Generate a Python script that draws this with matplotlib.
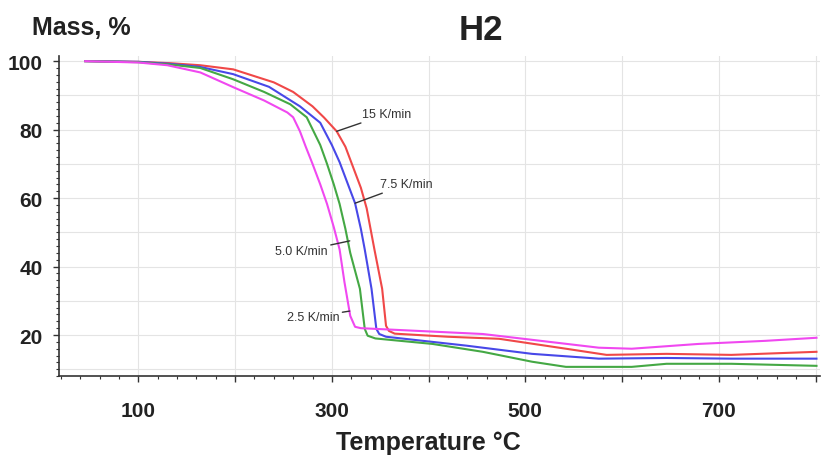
import matplotlib.pyplot as plt
from matplotlib.ticker import MultipleLocator

plt.rcParams['font.family'] = ['Liberation Sans', 'DejaVu Sans']

# TGA curves: temperature (°C) and mass (%)
t_15 = [45, 100, 133, 164, 198, 240, 260, 280, 292, 305, 314, 322, 330, 336, 344, 352, 356, 359, 365, 420, 473, 542, 584, 646, 713, 801]
m_15 = [100, 99.8, 99.4, 98.8, 97.6, 93.8, 91.0, 86.8, 83.5, 79.5, 75.0, 69.0, 63.0, 57.0, 45.0, 33.5, 22.7, 21.2, 20.4, 19.5, 18.9, 16.0, 14.2, 14.5, 14.2, 15.1]

t_75 = [45, 100, 133, 164, 198, 235, 267, 288, 300, 308, 316, 324, 330, 334, 341, 346, 349, 356, 439, 507, 576, 646, 713, 801]
m_75 = [100, 99.8, 99.2, 98.3, 96.2, 92.5, 86.8, 82.0, 75.5, 70.5, 64.5, 58.5, 51.0, 45.0, 33.5, 21.8, 20.3, 19.5, 16.9, 14.5, 13.1, 13.3, 13.1, 13.1]

t_50 = [45, 100, 133, 164, 198, 230, 257, 274, 288, 295, 302, 308, 314, 319, 329, 334, 337, 345, 404, 456, 507, 542, 610, 646, 713, 801]
m_50 = [100, 99.7, 99.0, 98.0, 94.7, 91.0, 87.4, 83.6, 75.5, 70.0, 64.0, 58.3, 51.0, 44.0, 33.5, 21.8, 19.8, 19.0, 17.4, 15.1, 12.2, 10.7, 10.7, 11.6, 11.6, 11.0]

t_25 = [45, 100, 130, 164, 198, 230, 254, 260, 267, 273, 280, 288, 295, 302, 308, 313, 319, 324, 330, 456, 525, 576, 610, 679, 748, 801]
m_25 = [100, 99.6, 98.8, 96.7, 92.4, 88.5, 85.0, 83.6, 79.5, 75.0, 70.0, 64.0, 58.3, 51.5, 45.0, 35.5, 25.6, 22.4, 22.0, 20.3, 18.0, 16.3, 16.0, 17.4, 18.3, 19.2]

rates = ["15 K/min", "7.5 K/min", "5.0 K/min", "2.5 K/min"]
colors = ["#f04848", "#4848e8", "#44a844", "#f048f0"]

fig = plt.figure(figsize=(8.32, 4.56), dpi=100)
ax = fig.add_axes([0.071, 0.173, 0.915, 0.702])

for t, m, c in zip([t_15, t_75, t_50, t_25], [m_15, m_75, m_50, m_25], colors):
    ax.plot(t, m, color=c, lw=1.5, zorder=3)

ax.set_xlim(18, 805)
ax.set_ylim(8, 101.5)

ax.set_xticks([100, 200, 300, 400, 500, 600, 700, 800])
ax.set_xticklabels(["100", "", "300", "", "500", "", "700", ""])
ax.xaxis.set_minor_locator(MultipleLocator(20))
ax.yaxis.set_major_locator(MultipleLocator(20))
ax.yaxis.set_minor_locator(MultipleLocator(2))

for x in range(100, 801, 100):
    ax.axvline(x, color="#e4e4e4", lw=0.8, zorder=0)
for y in range(10, 101, 10):
    ax.axhline(y, color="#e4e4e4", lw=0.8, zorder=0)

for s in ["top", "right"]:
    ax.spines[s].set_visible(False)
for s in ["left", "bottom"]:
    ax.spines[s].set_linewidth(1.2)
    ax.spines[s].set_color("#333333")

ax.tick_params(axis="both", which="major", length=4, width=1.0, color="#333333",
               labelsize=15, pad=14)
ax.tick_params(axis="both", which="minor", length=2.5, width=0.8, color="#333333")
ax.tick_params(axis="y", which="major", pad=8)
for lab in ax.get_xticklabels() + ax.get_yticklabels():
    lab.set_fontweight("bold")
    lab.set_color("#222222")

# labels of heating rates with leader lines
ann = [
    (rates[0], (305, 79.5), (331, 84.5), "left"),
    (rates[1], (324, 58.5), (349.5, 64), "left"),
    (rates[2], (318.5, 47.5), (296, 44.5), "right"),
    (rates[3], (318.5, 27), (308, 25.3), "right"),
]
for txt, xy, xyt, ha in ann:
    ax.annotate(txt, xy=xy, xytext=xyt, ha=ha, va="center", fontsize=9,
                color="#333333",
                arrowprops=dict(arrowstyle="-", color="#333333", lw=1.0,
                                shrinkA=0, shrinkB=0))

fig.text(0.578, 0.912, "H2", ha="center", va="baseline", fontsize=25, fontweight="bold",
         color="#222222")
fig.text(0.038, 0.923, "Mass, %", ha="left", va="baseline", fontsize=18, fontweight="bold",
         color="#222222")
fig.text(0.515, 0.014, "Temperature °C", ha="center", va="baseline", fontsize=18,
         fontweight="bold", color="#222222")

fig.savefig("out.png", dpi=100)
